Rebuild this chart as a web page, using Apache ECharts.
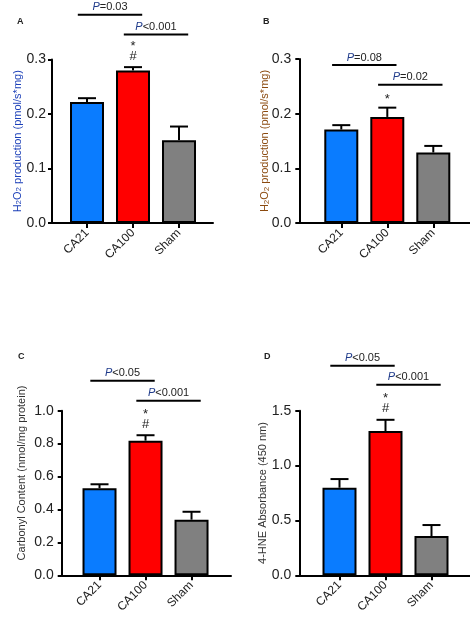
<!DOCTYPE html>
<html>
<head>
<meta charset="utf-8">
<script src="https://cdn.jsdelivr.net/npm/echarts@6/dist/echarts.min.js"></script>
<style>html,body{margin:0;padding:0;background:#fff}#c{width:470px;height:620px}</style>
</head>
<body>
<div id="c"></div>
<script>
// ---- data ----
const categories = ['CA21', 'CA100', 'Sham'];
const barColors = ['#0a7cff', '#ff0000', '#808080'];

const meanA = [0.222, 0.280, 0.152];
const semA  = [0.007, 0.006, 0.025];
const meanB = [0.171, 0.194, 0.129];
const semB  = [0.008, 0.017, 0.012];
const meanC = [0.529, 0.818, 0.338];
const semC  = [0.024, 0.033, 0.048];
const meanD = [0.798, 1.314, 0.358];
const semD  = [0.079, 0.103, 0.100];

const yTicksA = [0, 0.1, 0.2, 0.3];
const yTicksB = [0, 0.1, 0.2, 0.3];
const yTicksC = [0, 0.2, 0.4, 0.6, 0.8, 1.0];
const yTicksD = [0, 0.5, 1.0, 1.5];

// significance brackets: [from category, to category, level (axis units), text]
const sigA = [[0, 1, 0.382, '=0.03'], [1, 2, 0.346, '<0.001']];
const sigB = [[0, 1, 0.289, '=0.08'], [1, 2, 0.253, '=0.02']];
const sigC = [[0, 1, 1.182, '<0.05'], [1, 2, 1.061, '<0.001']];
const sigD = [[0, 1, 1.909, '<0.05'], [1, 2, 1.736, '<0.001']];

// markers above error bars (bottom first)
const marksA = [[], ['#', '*'], []];
const marksB = [[], ['*'], []];
const marksC = [[], ['#', '*'], []];
const marksD = [[], ['#', '*'], []];

// ---- layout / style ----
const FONT = 'Liberation Sans, Arial, sans-serif';
const panels = [
  { label: 'A', lx: 12, ly: 12, grid: { left: 52, top: 59.5, width: 161, height: 163.5 }, xmin: -0.761, xmax: 2.739,
    mean: meanA, sem: semA, ticks: yTicksA, sig: sigA, marks: marksA, dec: 1, nameGap: 29, namePad: 0, lblMargin: 6,
    name: '{n|H}{s|2}{n|O}{s|2}{n| production (pmol/s*mg)}', nameColor: '#1b3fb8' },
  { label: 'B', lx: 258, ly: 12, grid: { left: 299.3, top: 59, width: 170.7, height: 164 }, xmin: -0.913, xmax: 2.798,
    mean: meanB, sem: semB, ticks: yTicksB, sig: sigB, marks: marksB, dec: 1, nameGap: 29, namePad: 0, lblMargin: 8,
    name: '{n|H}{s|2}{n|O}{s|2}{n| production (pmol/s*mg)}', nameColor: '#8b4a0f' },
  { label: 'C', lx: 13, ly: 347, grid: { left: 61.7, top: 410.7, width: 169.3, height: 164.6 }, xmin: -0.822, xmax: 2.858,
    mean: meanC, sem: semC, ticks: yTicksC, sig: sigC, marks: marksC, dec: 1, nameGap: 34, namePad: 40, lblMargin: 8,
    name: '{n|Carbonyl Content (nmol/mg protein)}', nameColor: '#333' },
  { label: 'D', lx: 259, ly: 347, grid: { left: 299.3, top: 410.7, width: 170.7, height: 164.6 }, xmin: -0.874, xmax: 2.837,
    mean: meanD, sem: semD, ticks: yTicksD, sig: sigD, marks: marksD, dec: 1, nameGap: 31, namePad: 0, lblMargin: 8,
    name: '{n|4-HNE Absorbance (450 nm)}', nameColor: '#333' }
];

const option = { animation: false, backgroundColor: '#fff', title: [], grid: [], xAxis: [], yAxis: [], series: [] };

panels.forEach((p, i) => {
  option.title.push({ text: p.label, left: p.lx, top: p.ly,
    textStyle: { fontFamily: FONT, fontSize: 9, fontWeight: 'bold', color: '#222' } });
  option.grid.push(Object.assign({ containLabel: false }, p.grid));
  const tickIdx = categories.map((_, k) => k);
  option.xAxis.push({
    type: 'value', gridIndex: i, min: p.xmin, max: p.xmax,
    splitLine: { show: false },
    axisLine: { show: true, onZero: false, lineStyle: { color: '#000', width: 2 } },
    axisTick: { show: true, customValues: tickIdx, length: 5, lineStyle: { color: '#000', width: 2 } },
    axisLabel: { show: true, customValues: tickIdx, rotate: 45, margin: 8, fontFamily: FONT, fontSize: 12, color: '#222',
      formatter: v => categories[Math.round(v)] }
  });
  const tk = p.ticks;
  option.yAxis.push({
    type: 'value', gridIndex: i, min: tk[0], max: tk[tk.length - 1], interval: tk[1] - tk[0],
    splitLine: { show: false },
    axisLine: { show: true, onZero: false, lineStyle: { color: '#000', width: 2 } },
    axisTick: { show: true, length: 4, lineStyle: { color: '#000', width: 2 } },
    axisLabel: { margin: p.lblMargin, fontFamily: FONT, fontSize: 14, color: '#222', formatter: v => v.toFixed(p.dec) },
    name: p.name, nameLocation: 'middle', nameGap: p.nameGap, nameRotate: 90, nameMoveOverlap: false,
    nameTextStyle: { fontFamily: FONT, color: p.nameColor, padding: [0, 0, 0, p.namePad],
      rich: {
        n: { fontFamily: FONT, fontSize: 11, color: p.nameColor, verticalAlign: 'bottom', lineHeight: 14 },
        s: { fontFamily: FONT, fontSize: 8, color: p.nameColor, verticalAlign: 'bottom', lineHeight: 10 }
      } }
  });
  // bars
  option.series.push({
    type: 'bar', xAxisIndex: i, yAxisIndex: i, barWidth: 34, z: 2,
    data: p.mean.map((v, k) => ({ value: [k, v], itemStyle: { color: barColors[k], borderColor: '#000', borderWidth: 2 } }))
  });
  // error bars + markers
  option.series.push({
    type: 'custom', xAxisIndex: i, yAxisIndex: i, z: 3, clip: false,
    data: p.mean.map((v, k) => [k, v, v + p.sem[k]]),
    renderItem: (params, api) => {
      const x = api.value(0), m = api.value(1), t = api.value(2);
      const p0 = api.coord([x, m]), p1 = api.coord([x, t]);
      const hw = 9;
      const children = [
        { type: 'line', shape: { x1: p0[0], y1: p0[1], x2: p1[0], y2: p1[1] }, style: { stroke: '#000', lineWidth: 2 } },
        { type: 'line', shape: { x1: p1[0] - hw, y1: p1[1], x2: p1[0] + hw, y2: p1[1] }, style: { stroke: '#000', lineWidth: 2 } }
      ];
      (p.marks[params.dataIndex] || []).forEach((s, j) => {
        children.push({ type: 'text', x: p1[0], y: p1[1] - 11 - 13 * j + (s === '*' ? 3 : 0),
          style: { text: s, fontFamily: FONT, fontSize: 13, fill: '#222', align: 'center', verticalAlign: 'middle' } });
      });
      return { type: 'group', children };
    }
  });
  // significance brackets
  option.series.push({
    type: 'custom', xAxisIndex: i, yAxisIndex: i, z: 4, clip: false,
    data: p.sig.map(s => [s[0], s[1], s[2]]),
    renderItem: (params, api) => {
      const a = api.value(0), b = api.value(1), lv = api.value(2);
      const q0 = api.coord([a - 0.2, lv]), q1 = api.coord([b + 0.2, lv]);
      const txt = p.sig[params.dataIndex][3];
      return { type: 'group', children: [
        { type: 'line', shape: { x1: q0[0], y1: q0[1], x2: q1[0], y2: q1[1] }, style: { stroke: '#000', lineWidth: 2 } },
        { type: 'text', x: (q0[0] + q1[0]) / 2, y: q0[1] - 2,
          style: { text: '{p|P}{t|' + txt + '}', align: 'center', verticalAlign: 'bottom',
            rich: { p: { fontFamily: FONT, fontSize: 11, fontStyle: 'italic', fill: '#1e3a8a' },
                    t: { fontFamily: FONT, fontSize: 11, fill: '#222' } } } }
      ] };
    }
  });
});

const chart = echarts.init(document.getElementById('c'), null, { renderer: 'canvas' });
chart.setOption(option);
</script>
</body>
</html>
